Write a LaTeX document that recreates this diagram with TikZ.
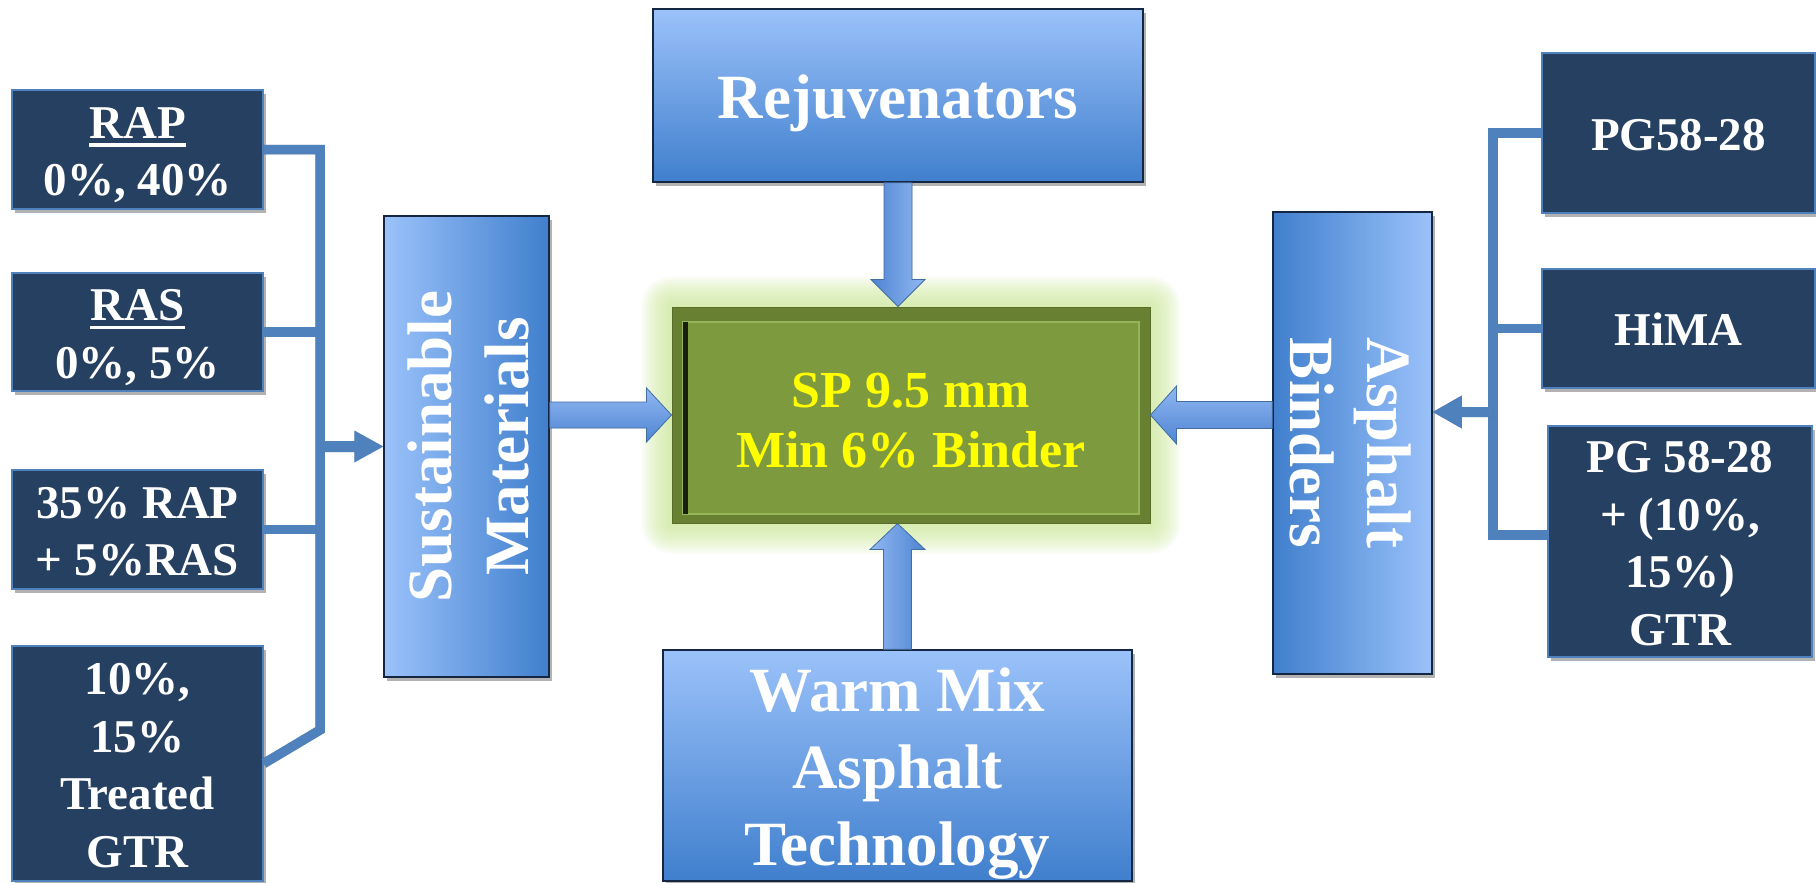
\documentclass[tikz,border=0pt]{standalone}
\usepackage{fontspec}
\setmainfont{Liberation Serif}
\usepackage{graphicx}
\usetikzlibrary{calc,shadows}
\pgfdeclarelayer{background}
\pgfsetlayers{background,main}

\definecolor{navy}{RGB}{38,64,97}
\definecolor{navyborder}{RGB}{79,129,189}
\definecolor{linkblue}{RGB}{79,129,189}
\definecolor{boxlight}{RGB}{155,194,250}
\definecolor{boxdark}{RGB}{64,127,205}
\definecolor{boxborder}{RGB}{20,38,66}
\definecolor{olive}{RGB}{126,154,62}
\definecolor{olivedark}{RGB}{104,128,50}
\definecolor{olivelight}{RGB}{150,180,88}
\definecolor{glowc}{RGB}{208,236,160}
\definecolor{arrlight}{RGB}{145,184,242}
\definecolor{arrdark}{RGB}{78,132,210}
\definecolor{txtyellow}{RGB}{255,255,0}

\newcommand\lnS{\rule[-0.2\baselineskip]{0pt}{\baselineskip}}
\newcommand\lnC{\rule[-0.12\baselineskip]{0pt}{\baselineskip}}
\newcommand\strutB{\rule[-15.4pt]{0pt}{77pt}}
\newcommand\myul[1]{\vtop{\hbox{#1}\kern5pt\hrule height 3.5pt}}

% horizontal block arrow: #1 start, #2 tip, #3 shaft half, #4 head half, #5 signed head length, #6 options
\newcommand\fatH[6]{%
  \fill[black,opacity=0.22,xshift=2pt,yshift=-3pt] ($(#1)+(0,-#3)$) -- ($(#2)+(#5,-#3)$) -- ($(#2)+(#5,-#4)$) -- (#2) -- ($(#2)+(#5,#4)$) -- ($(#2)+(#5,#3)$) -- ($(#1)+(0,#3)$) -- cycle;
  \path[#6] ($(#1)+(0,-#3)$) -- ($(#2)+(#5,-#3)$) -- ($(#2)+(#5,-#4)$) -- (#2) -- ($(#2)+(#5,#4)$) -- ($(#2)+(#5,#3)$) -- ($(#1)+(0,#3)$) -- cycle;}
% vertical block arrow
\newcommand\fatV[6]{%
  \fill[black,opacity=0.22,xshift=2pt,yshift=-3pt] ($(#1)+(-#3,0)$) -- ($(#2)+(-#3,#5)$) -- ($(#2)+(-#4,#5)$) -- (#2) -- ($(#2)+(#4,#5)$) -- ($(#2)+(#3,#5)$) -- ($(#1)+(#3,0)$) -- cycle;
  \path[#6] ($(#1)+(-#3,0)$) -- ($(#2)+(-#3,#5)$) -- ($(#2)+(-#4,#5)$) -- (#2) -- ($(#2)+(#4,#5)$) -- ($(#2)+(#3,#5)$) -- ($(#1)+(#3,0)$) -- cycle;}

\tikzset{
  navybox/.style={draw=navyborder, line width=1.5pt, fill=navy, text=white, inner sep=0pt,
    align=center, font=\fontsize{47}{57.5}\selectfont\bfseries,
    drop shadow={shadow xshift=3pt, shadow yshift=-4pt, opacity=0.3, fill=black}},
  bluebox/.style={draw=boxborder, line width=1.5pt, text=white, inner sep=0pt,
    align=center, font=\fontsize{63}{77}\selectfont\bfseries,
    drop shadow={shadow xshift=3pt, shadow yshift=-4pt, opacity=0.3, fill=black}},
  centerbox/.style={fill=olivedark, draw=olivedark!85!black, line width=1pt, inner sep=0pt,
    text=txtyellow, align=center, font=\fontsize{52}{60}\selectfont\bfseries},
  bracket/.style={draw=linkblue, line width=9.5pt, line join=miter},
  bracketshadow/.style={draw=black, opacity=0.3, line width=9.5pt, line join=miter, xshift=1.5pt, yshift=-2.5pt},
  fatarrow/.style={draw=linkblue!85!black, line width=0.8pt},
  thinarrow/.style={fill=linkblue},
}

\begin{document}
\begin{tikzpicture}[x=1pt,y=-1pt]
\useasboundingbox (0,0) rectangle (1816,883);

% left input boxes
\node[navybox, minimum width=251pt, minimum height=119pt] (rap) at (137.5,149.5) {\lnS\myul{RAP}\\\lnS 0\%, 40\%};
\node[navybox, minimum width=251pt, minimum height=118pt] (ras) at (137.5,332) {\lnS\myul{RAS}\\\lnS 0\%, 5\%};
\node[navybox, minimum width=251pt, minimum height=119pt] (rapras) at (137.5,529.5) {\lnS 35\% RAP\\\lnS + 5\%RAS};
\node[navybox, minimum width=251pt, minimum height=235pt] (gtr) at (137.5,763.5) {\lnS 10\%,\\\lnS 15\%\\\lnS Treated\\\lnS GTR};

% right input boxes
\node[navybox, minimum width=273pt, minimum height=160pt] (pg1) at (1678.5,133) {\lnS PG58-28};
\node[navybox, minimum width=273pt, minimum height=119pt] (hima) at (1678.5,328.5) {\lnS HiMA};
\node[navybox, minimum width=264pt, minimum height=231pt] (pg2) at (1680,541.5) {\lnS PG 58-28\\\lnS + (10\%,\\\lnS 15\%)\\\lnS GTR};

% blue category boxes
\node[bluebox, left color=boxlight, right color=boxdark, minimum width=165pt, minimum height=461pt] (sust) at (466.5,446.5)
  {\rotatebox{90}{\renewcommand\arraystretch{0}\begin{tabular}{@{}c@{}}\strutB Sustainable\\\strutB Materials\end{tabular}}};
\node[bluebox, left color=boxdark, right color=boxlight, minimum width=159pt, minimum height=462pt] (binders) at (1352.5,443)
  {\rotatebox{-90}{\renewcommand\arraystretch{0}\begin{tabular}{@{}c@{}}\strutB Asphalt\\\strutB Binders\end{tabular}}};
\node[bluebox, top color=boxlight, bottom color=boxdark, minimum width=490pt, minimum height=173pt] (rejuv) at (898,95.5) {\lnS Rejuvenators};
\node[bluebox, top color=boxlight, bottom color=boxdark, minimum width=469pt, minimum height=229pt] (warm) at (897.5,765.5)
  {\lnS Warm Mix\\\lnS Asphalt\\\lnS Technology};

% centre box
\node[centerbox, minimum width=478pt, minimum height=216pt,
  path picture={
    \coordinate (pnw) at (path picture bounding box.north west);
    \coordinate (pse) at (path picture bounding box.south east);
    \fill[olive] ($(pnw)+(11,15)$) rectangle ($(pse)+(-11,-9)$);
    \draw[olivelight, line width=2pt] ($(pnw)+(11,15)$) rectangle ($(pse)+(-11,-9)$);
    \draw[black!80!olive, line width=5pt] ($(pnw)+(13.5,15)$) -- ($(pnw)+(13.5,207)$);
  }] (center) at (911,415) {\lnC SP 9.5 mm\\\lnC Min 6\% Binder};

% background and glow
\begin{pgfonlayer}{background}
  \fill[white] (0,0) rectangle (1816,883);
  \foreach \d in {30,28,...,2}
    \fill[glowc, opacity=0.085, rounded corners=\d pt] ($(center.north west)+(-\d,-\d)$) rectangle ($(center.south east)+(\d,\d)$);
\end{pgfonlayer}

% left bracket
\coordinate (lb) at (320,146);
\coordinate (lbb) at (320,730);
\draw[bracketshadow] (rap.east) -- (rap.east -| lb) -- (lbb) -- (gtr.east);
\draw[bracketshadow] (ras.east) -- (ras.east -| lb);
\draw[bracketshadow] (rapras.east) -- (rapras.east -| lb);
\draw[bracket] (rap.east) -- (rap.east -| lb) -- (lbb) -- (gtr.east);
\draw[bracket] (ras.east) -- (ras.east -| lb);
\draw[bracket] (rapras.east) -- (rapras.east -| lb);
\coordinate (a5s) at (sust.west -| lb);
\fatH{a5s}{sust.west}{5.5}{16}{-29}{thinarrow}

% right bracket
\coordinate (rb) at (1493,134);
\coordinate (rbb) at (1493,535);
\coordinate (p2c) at (pg2.west |- rbb);
\draw[bracketshadow] (pg1.west) -- (pg1.west -| rb) -- (rbb) -- (p2c);
\draw[bracketshadow] (hima.west) -- (hima.west -| rb);
\draw[bracket] (pg1.west) -- (pg1.west -| rb) -- (rbb) -- (p2c);
\draw[bracket] (hima.west) -- (hima.west -| rb);
\coordinate (a6s) at (1493,412);
\coordinate (a6t) at (binders.east |- a6s);
\fatH{a6s}{a6t}{5}{16.5}{29}{thinarrow}

% block arrows into the centre
\coordinate (a1s) at (sust.east |- center.west);
\fatH{a1s}{center.west}{13}{27}{-25}{fatarrow, top color=arrlight, bottom color=arrdark}
\coordinate (a2s) at (binders.west |- center.east);
\fatH{a2s}{center.east}{13.5}{29}{26}{fatarrow, top color=arrlight, bottom color=arrdark}
\coordinate (a3s) at (rejuv.south);
\coordinate (a3t) at (rejuv.south |- center.north);
\fatV{a3s}{a3t}{14}{27}{-27}{fatarrow, left color=arrdark, right color=arrlight}
\coordinate (a4s) at (warm.north);
\coordinate (a4t) at (warm.north |- center.south);
\fatV{a4s}{a4t}{14}{27.5}{26}{fatarrow, left color=arrlight, right color=arrdark}
\end{tikzpicture}
\end{document}
